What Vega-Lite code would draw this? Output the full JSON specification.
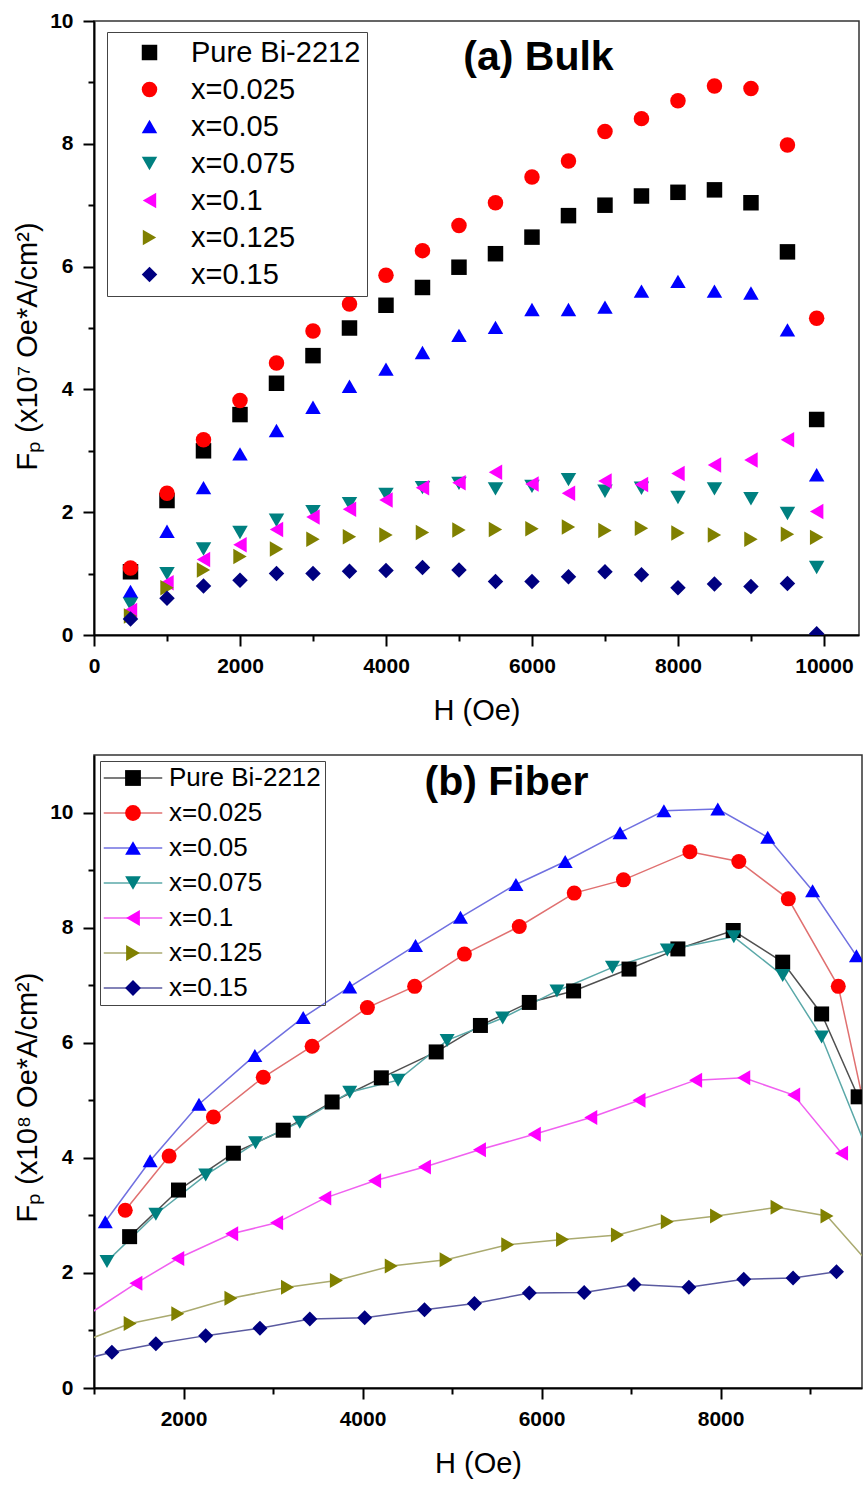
{
  "$schema": "https://vega.github.io/schema/vega-lite/v6.json",
  "padding": {"left": 12, "top": 9, "right": 0, "bottom": 0},
  "background": "white",
  "config": {
    "font": "Liberation Sans",
    "view": {"stroke": "#333333", "strokeWidth": 1.5},
    "axis": {
      "grid": false,
      "domainColor": "black",
      "domainWidth": 2,
      "tickColor": "black",
      "tickWidth": 2,
      "labelFont": "Liberation Sans",
      "labelFontWeight": "bold",
      "labelFontSize": 21,
      "labelColor": "black",
      "labelFlush": false,
      "labelOverlap": false,
      "titleFont": "Liberation Sans",
      "titleFontWeight": "normal",
      "titleFontSize": 29,
      "titleColor": "black"
    },
    "legend": {
      "labelFont": "Liberation Sans",
      "labelColor": "black",
      "labelLimit": 500
    }
  },
  "spacing": 28,
  "resolve": {
    "scale": {"color": "independent", "shape": "independent", "fill": "independent", "stroke": "independent"},
    "legend": {"color": "independent", "shape": "independent", "fill": "independent", "stroke": "independent"}
  },
  "datasets": {
    "bulk": [
      {"s": "Pure Bi-2212", "H": 500, "F": 1.03}, {"s": "Pure Bi-2212", "H": 1000, "F": 2.19}, {"s": "Pure Bi-2212", "H": 1500, "F": 3.0}, {"s": "Pure Bi-2212", "H": 2000, "F": 3.59}, {"s": "Pure Bi-2212", "H": 2500, "F": 4.1}, {"s": "Pure Bi-2212", "H": 3000, "F": 4.55}, {"s": "Pure Bi-2212", "H": 3500, "F": 5.0}, {"s": "Pure Bi-2212", "H": 4000, "F": 5.37}, {"s": "Pure Bi-2212", "H": 4500, "F": 5.66}, {"s": "Pure Bi-2212", "H": 5000, "F": 5.99}, {"s": "Pure Bi-2212", "H": 5500, "F": 6.21}, {"s": "Pure Bi-2212", "H": 6000, "F": 6.48}, {"s": "Pure Bi-2212", "H": 6500, "F": 6.83}, {"s": "Pure Bi-2212", "H": 7000, "F": 7.0}, {"s": "Pure Bi-2212", "H": 7500, "F": 7.15}, {"s": "Pure Bi-2212", "H": 8000, "F": 7.21}, {"s": "Pure Bi-2212", "H": 8500, "F": 7.25}, {"s": "Pure Bi-2212", "H": 9000, "F": 7.04}, {"s": "Pure Bi-2212", "H": 9500, "F": 6.24}, {"s": "Pure Bi-2212", "H": 9900, "F": 3.51},
      {"s": "x=0.025", "H": 500, "F": 1.09}, {"s": "x=0.025", "H": 1000, "F": 2.31}, {"s": "x=0.025", "H": 1500, "F": 3.18}, {"s": "x=0.025", "H": 2000, "F": 3.82}, {"s": "x=0.025", "H": 2500, "F": 4.43}, {"s": "x=0.025", "H": 3000, "F": 4.95}, {"s": "x=0.025", "H": 3500, "F": 5.39}, {"s": "x=0.025", "H": 4000, "F": 5.86}, {"s": "x=0.025", "H": 4500, "F": 6.26}, {"s": "x=0.025", "H": 5000, "F": 6.67}, {"s": "x=0.025", "H": 5500, "F": 7.04}, {"s": "x=0.025", "H": 6000, "F": 7.46}, {"s": "x=0.025", "H": 6500, "F": 7.72}, {"s": "x=0.025", "H": 7000, "F": 8.2}, {"s": "x=0.025", "H": 7500, "F": 8.41}, {"s": "x=0.025", "H": 8000, "F": 8.7}, {"s": "x=0.025", "H": 8500, "F": 8.94}, {"s": "x=0.025", "H": 9000, "F": 8.9}, {"s": "x=0.025", "H": 9500, "F": 7.98}, {"s": "x=0.025", "H": 9900, "F": 5.16},
      {"s": "x=0.05", "H": 500, "F": 0.71}, {"s": "x=0.05", "H": 1000, "F": 1.69}, {"s": "x=0.05", "H": 1500, "F": 2.4}, {"s": "x=0.05", "H": 2000, "F": 2.95}, {"s": "x=0.05", "H": 2500, "F": 3.33}, {"s": "x=0.05", "H": 3000, "F": 3.71}, {"s": "x=0.05", "H": 3500, "F": 4.05}, {"s": "x=0.05", "H": 4000, "F": 4.33}, {"s": "x=0.05", "H": 4500, "F": 4.6}, {"s": "x=0.05", "H": 5000, "F": 4.88}, {"s": "x=0.05", "H": 5500, "F": 5.01}, {"s": "x=0.05", "H": 6000, "F": 5.3}, {"s": "x=0.05", "H": 6500, "F": 5.3}, {"s": "x=0.05", "H": 7000, "F": 5.34}, {"s": "x=0.05", "H": 7500, "F": 5.6}, {"s": "x=0.05", "H": 8000, "F": 5.76}, {"s": "x=0.05", "H": 8500, "F": 5.6}, {"s": "x=0.05", "H": 9000, "F": 5.57}, {"s": "x=0.05", "H": 9500, "F": 4.97}, {"s": "x=0.05", "H": 9900, "F": 2.61},
      {"s": "x=0.075", "H": 500, "F": 0.5}, {"s": "x=0.075", "H": 1000, "F": 1.0}, {"s": "x=0.075", "H": 1500, "F": 1.4}, {"s": "x=0.075", "H": 2000, "F": 1.67}, {"s": "x=0.075", "H": 2500, "F": 1.87}, {"s": "x=0.075", "H": 3000, "F": 2.01}, {"s": "x=0.075", "H": 3500, "F": 2.14}, {"s": "x=0.075", "H": 4000, "F": 2.29}, {"s": "x=0.075", "H": 4500, "F": 2.4}, {"s": "x=0.075", "H": 5000, "F": 2.47}, {"s": "x=0.075", "H": 5500, "F": 2.38}, {"s": "x=0.075", "H": 6000, "F": 2.42}, {"s": "x=0.075", "H": 6500, "F": 2.53}, {"s": "x=0.075", "H": 7000, "F": 2.34}, {"s": "x=0.075", "H": 7500, "F": 2.39}, {"s": "x=0.075", "H": 8000, "F": 2.24}, {"s": "x=0.075", "H": 8500, "F": 2.38}, {"s": "x=0.075", "H": 9000, "F": 2.22}, {"s": "x=0.075", "H": 9500, "F": 1.98}, {"s": "x=0.075", "H": 9900, "F": 1.1},
      {"s": "x=0.1", "H": 500, "F": 0.4}, {"s": "x=0.1", "H": 1000, "F": 0.85}, {"s": "x=0.1", "H": 1500, "F": 1.23}, {"s": "x=0.1", "H": 2000, "F": 1.47}, {"s": "x=0.1", "H": 2500, "F": 1.72}, {"s": "x=0.1", "H": 3000, "F": 1.92}, {"s": "x=0.1", "H": 3500, "F": 2.05}, {"s": "x=0.1", "H": 4000, "F": 2.2}, {"s": "x=0.1", "H": 4500, "F": 2.4}, {"s": "x=0.1", "H": 5000, "F": 2.48}, {"s": "x=0.1", "H": 5500, "F": 2.65}, {"s": "x=0.1", "H": 6000, "F": 2.46}, {"s": "x=0.1", "H": 6500, "F": 2.31}, {"s": "x=0.1", "H": 7000, "F": 2.51}, {"s": "x=0.1", "H": 7500, "F": 2.45}, {"s": "x=0.1", "H": 8000, "F": 2.63}, {"s": "x=0.1", "H": 8500, "F": 2.77}, {"s": "x=0.1", "H": 9000, "F": 2.85}, {"s": "x=0.1", "H": 9500, "F": 3.18}, {"s": "x=0.1", "H": 9900, "F": 2.01},
      {"s": "x=0.125", "H": 500, "F": 0.31}, {"s": "x=0.125", "H": 1000, "F": 0.77}, {"s": "x=0.125", "H": 1500, "F": 1.06}, {"s": "x=0.125", "H": 2000, "F": 1.28}, {"s": "x=0.125", "H": 2500, "F": 1.4}, {"s": "x=0.125", "H": 3000, "F": 1.56}, {"s": "x=0.125", "H": 3500, "F": 1.6}, {"s": "x=0.125", "H": 4000, "F": 1.63}, {"s": "x=0.125", "H": 4500, "F": 1.67}, {"s": "x=0.125", "H": 5000, "F": 1.71}, {"s": "x=0.125", "H": 5500, "F": 1.72}, {"s": "x=0.125", "H": 6000, "F": 1.73}, {"s": "x=0.125", "H": 6500, "F": 1.76}, {"s": "x=0.125", "H": 7000, "F": 1.7}, {"s": "x=0.125", "H": 7500, "F": 1.74}, {"s": "x=0.125", "H": 8000, "F": 1.66}, {"s": "x=0.125", "H": 8500, "F": 1.63}, {"s": "x=0.125", "H": 9000, "F": 1.56}, {"s": "x=0.125", "H": 9500, "F": 1.64}, {"s": "x=0.125", "H": 9900, "F": 1.59},
      {"s": "x=0.15", "H": 500, "F": 0.26}, {"s": "x=0.15", "H": 1000, "F": 0.6}, {"s": "x=0.15", "H": 1500, "F": 0.8}, {"s": "x=0.15", "H": 2000, "F": 0.89}, {"s": "x=0.15", "H": 2500, "F": 1.0}, {"s": "x=0.15", "H": 3000, "F": 1.0}, {"s": "x=0.15", "H": 3500, "F": 1.04}, {"s": "x=0.15", "H": 4000, "F": 1.05}, {"s": "x=0.15", "H": 4500, "F": 1.1}, {"s": "x=0.15", "H": 5000, "F": 1.06}, {"s": "x=0.15", "H": 5500, "F": 0.87}, {"s": "x=0.15", "H": 6000, "F": 0.87}, {"s": "x=0.15", "H": 6500, "F": 0.95}, {"s": "x=0.15", "H": 7000, "F": 1.03}, {"s": "x=0.15", "H": 7500, "F": 0.98}, {"s": "x=0.15", "H": 8000, "F": 0.77}, {"s": "x=0.15", "H": 8500, "F": 0.83}, {"s": "x=0.15", "H": 9000, "F": 0.79}, {"s": "x=0.15", "H": 9500, "F": 0.84}, {"s": "x=0.15", "H": 9900, "F": 0.02}
    ],
    "fiber": [
      {"s": "Pure Bi-2212", "H": 1398, "F": 2.63}, {"s": "Pure Bi-2212", "H": 1944, "F": 3.44}, {"s": "Pure Bi-2212", "H": 2557, "F": 4.08}, {"s": "Pure Bi-2212", "H": 3114, "F": 4.48}, {"s": "Pure Bi-2212", "H": 3660, "F": 4.97}, {"s": "Pure Bi-2212", "H": 4210, "F": 5.39}, {"s": "Pure Bi-2212", "H": 4823, "F": 5.84}, {"s": "Pure Bi-2212", "H": 5317, "F": 6.3}, {"s": "Pure Bi-2212", "H": 5863, "F": 6.7}, {"s": "Pure Bi-2212", "H": 6358, "F": 6.9}, {"s": "Pure Bi-2212", "H": 6977, "F": 7.28}, {"s": "Pure Bi-2212", "H": 7523, "F": 7.63}, {"s": "Pure Bi-2212", "H": 8141, "F": 7.95}, {"s": "Pure Bi-2212", "H": 8694, "F": 7.4}, {"s": "Pure Bi-2212", "H": 9129, "F": 6.5}, {"s": "Pure Bi-2212", "H": 9537, "F": 5.06},
      {"s": "x=0.025", "H": 1349, "F": 3.09}, {"s": "x=0.025", "H": 1839, "F": 4.03}, {"s": "x=0.025", "H": 2334, "F": 4.71}, {"s": "x=0.025", "H": 2891, "F": 5.4}, {"s": "x=0.025", "H": 3437, "F": 5.94}, {"s": "x=0.025", "H": 4054, "F": 6.61}, {"s": "x=0.025", "H": 4582, "F": 6.98}, {"s": "x=0.025", "H": 5138, "F": 7.54}, {"s": "x=0.025", "H": 5751, "F": 8.02}, {"s": "x=0.025", "H": 6365, "F": 8.6}, {"s": "x=0.025", "H": 6915, "F": 8.83}, {"s": "x=0.025", "H": 7657, "F": 9.32}, {"s": "x=0.025", "H": 8204, "F": 9.15}, {"s": "x=0.025", "H": 8757, "F": 8.5}, {"s": "x=0.025", "H": 9315, "F": 6.98}, {"s": "x=0.025", "H": 9800, "F": 3.5},
      {"s": "x=0.05", "H": 1126, "F": 2.89}, {"s": "x=0.05", "H": 1627, "F": 3.95}, {"s": "x=0.05", "H": 2173, "F": 4.93}, {"s": "x=0.05", "H": 2797, "F": 5.78}, {"s": "x=0.05", "H": 3337, "F": 6.44}, {"s": "x=0.05", "H": 3857, "F": 6.97}, {"s": "x=0.05", "H": 4592, "F": 7.69}, {"s": "x=0.05", "H": 5094, "F": 8.18}, {"s": "x=0.05", "H": 5714, "F": 8.75}, {"s": "x=0.05", "H": 6264, "F": 9.15}, {"s": "x=0.05", "H": 6877, "F": 9.65}, {"s": "x=0.05", "H": 7367, "F": 10.03}, {"s": "x=0.05", "H": 7969, "F": 10.06}, {"s": "x=0.05", "H": 8527, "F": 9.57}, {"s": "x=0.05", "H": 9028, "F": 8.64}, {"s": "x=0.05", "H": 9518, "F": 7.51},
      {"s": "x=0.075", "H": 1145, "F": 2.2}, {"s": "x=0.075", "H": 1691, "F": 3.02}, {"s": "x=0.075", "H": 2248, "F": 3.7}, {"s": "x=0.075", "H": 2805, "F": 4.26}, {"s": "x=0.075", "H": 3299, "F": 4.62}, {"s": "x=0.075", "H": 3857, "F": 5.14}, {"s": "x=0.075", "H": 4397, "F": 5.35}, {"s": "x=0.075", "H": 4945, "F": 6.04}, {"s": "x=0.075", "H": 5566, "F": 6.43}, {"s": "x=0.075", "H": 6172, "F": 6.9}, {"s": "x=0.075", "H": 6792, "F": 7.31}, {"s": "x=0.075", "H": 7405, "F": 7.61}, {"s": "x=0.075", "H": 8148, "F": 7.84}, {"s": "x=0.075", "H": 8694, "F": 7.17}, {"s": "x=0.075", "H": 9129, "F": 6.1}, {"s": "x=0.075", "H": 9700, "F": 3.9},
      {"s": "x=0.1", "H": 900, "F": 1.24}, {"s": "x=0.1", "H": 1468, "F": 1.82}, {"s": "x=0.1", "H": 1936, "F": 2.25}, {"s": "x=0.1", "H": 2538, "F": 2.68}, {"s": "x=0.1", "H": 3040, "F": 2.87}, {"s": "x=0.1", "H": 3578, "F": 3.3}, {"s": "x=0.1", "H": 4135, "F": 3.6}, {"s": "x=0.1", "H": 4692, "F": 3.84}, {"s": "x=0.1", "H": 5306, "F": 4.14}, {"s": "x=0.1", "H": 5919, "F": 4.41}, {"s": "x=0.1", "H": 6550, "F": 4.7}, {"s": "x=0.1", "H": 7089, "F": 5.0}, {"s": "x=0.1", "H": 7721, "F": 5.35}, {"s": "x=0.1", "H": 8259, "F": 5.39}, {"s": "x=0.1", "H": 8817, "F": 5.09}, {"s": "x=0.1", "H": 9352, "F": 4.08},
      {"s": "x=0.125", "H": 850, "F": 0.79}, {"s": "x=0.125", "H": 1404, "F": 1.12}, {"s": "x=0.125", "H": 1936, "F": 1.29}, {"s": "x=0.125", "H": 2530, "F": 1.56}, {"s": "x=0.125", "H": 3162, "F": 1.75}, {"s": "x=0.125", "H": 3708, "F": 1.87}, {"s": "x=0.125", "H": 4321, "F": 2.12}, {"s": "x=0.125", "H": 4934, "F": 2.23}, {"s": "x=0.125", "H": 5622, "F": 2.49}, {"s": "x=0.125", "H": 6235, "F": 2.58}, {"s": "x=0.125", "H": 6848, "F": 2.66}, {"s": "x=0.125", "H": 7405, "F": 2.89}, {"s": "x=0.125", "H": 7955, "F": 2.99}, {"s": "x=0.125", "H": 8631, "F": 3.14}, {"s": "x=0.125", "H": 9189, "F": 2.99}, {"s": "x=0.125", "H": 9800, "F": 1.91},
      {"s": "x=0.15", "H": 800, "F": 0.47}, {"s": "x=0.15", "H": 1200, "F": 0.62}, {"s": "x=0.15", "H": 1691, "F": 0.77}, {"s": "x=0.15", "H": 2248, "F": 0.91}, {"s": "x=0.15", "H": 2854, "F": 1.04}, {"s": "x=0.15", "H": 3411, "F": 1.2}, {"s": "x=0.15", "H": 4024, "F": 1.22}, {"s": "x=0.15", "H": 4692, "F": 1.36}, {"s": "x=0.15", "H": 5250, "F": 1.47}, {"s": "x=0.15", "H": 5863, "F": 1.65}, {"s": "x=0.15", "H": 6476, "F": 1.66}, {"s": "x=0.15", "H": 7033, "F": 1.8}, {"s": "x=0.15", "H": 7646, "F": 1.75}, {"s": "x=0.15", "H": 8259, "F": 1.89}, {"s": "x=0.15", "H": 8810, "F": 1.91}, {"s": "x=0.15", "H": 9295, "F": 2.02}
    ]
  },
  "vconcat": [
    {
      "width": 765,
      "height": 614,
      "layer": [
        {
          "data": {"name": "bulk"},
          "mark": {"type": "point", "filled": true, "size": 240, "opacity": 1, "strokeWidth": 0, "clip": true},
          "encoding": {
            "x": {
              "field": "H", "type": "quantitative",
              "scale": {"domain": [0, 10480], "nice": false, "zero": false},
              "axis": {
                "title": "H (Oe)",
                "values": [0, 1000, 2000, 3000, 4000, 5000, 6000, 7000, 8000, 9000, 10000],
                "format": "d",
                "labelExpr": "datum.value % 2000 === 0 ? datum.label : ''",
                "tickSize": {"condition": {"test": "datum.value % 2000 === 0", "value": 11}, "value": 6},
                "labelPadding": 9,
                "titlePadding": 20
              }
            },
            "y": {
              "field": "F", "type": "quantitative",
              "scale": {"domain": [0, 10], "nice": false},
              "axis": {
                "title": "Fₚ (x10⁷ Oe*A/cm²)",
                "values": [0, 1, 2, 3, 4, 5, 6, 7, 8, 9, 10],
                "format": "d",
                "labelExpr": "datum.value % 2 === 0 ? datum.label : ''",
                "tickSize": {"condition": {"test": "datum.value % 2 === 0", "value": 11}, "value": 6},
                "labelPadding": 10,
                "titlePadding": 7,
                "titleY": 325
              }
            },
            "color": {
              "field": "s", "type": "nominal",
              "scale": {"domain": ["Pure Bi-2212", "x=0.025", "x=0.05", "x=0.075", "x=0.1", "x=0.125", "x=0.15"], "range": ["#000000", "#ff0000", "#0000ff", "#008080", "#ff00ff", "#808000", "#000080"]},
              "legend": {"title": null, "orient": "none", "legendX": 13, "legendY": 11, "padding": 6, "strokeColor": "#444444", "fillColor": "white", "labelFontSize": 29, "symbolSize": 240, "symbolStrokeWidth": 0, "symbolOffset": 22, "labelOffset": 27, "rowPadding": 7}
            },
            "shape": {
              "field": "s", "type": "nominal",
              "scale": {"domain": ["Pure Bi-2212", "x=0.025", "x=0.05", "x=0.075", "x=0.1", "x=0.125", "x=0.15"], "range": ["square", "circle", "triangle-up", "triangle-down", "triangle-left", "triangle-right", "diamond"]},
              "legend": {"title": null, "orient": "none", "legendX": 13, "legendY": 11, "padding": 6, "strokeColor": "#444444", "fillColor": "white", "labelFontSize": 29, "symbolSize": 240, "symbolStrokeWidth": 0, "symbolOffset": 22, "labelOffset": 27, "rowPadding": 7}
            }
          }
        },
        {
          "data": {"values": [{}]},
          "mark": {"type": "text", "text": "(a) Bulk", "font": "Liberation Sans", "fontSize": 41, "fontWeight": "bold", "color": "black", "align": "center", "baseline": "middle"},
          "encoding": {"x": {"datum": 6089}, "y": {"datum": 9.4}}
        }
      ]
    },
    {
      "width": 768,
      "height": 633,
      "layer": [
        {
          "data": {"name": "fiber"},
          "mark": {"type": "line", "strokeWidth": 1.5, "clip": true},
          "encoding": {
            "x": {
              "field": "H", "type": "quantitative",
              "scale": {"domain": [1000, 9580], "nice": false, "zero": false},
              "axis": {
                "title": "H (Oe)",
                "values": [1000, 2000, 3000, 4000, 5000, 6000, 7000, 8000, 9000],
                "format": "d",
                "labelExpr": "datum.value % 2000 === 0 ? datum.label : ''",
                "tickSize": {"condition": {"test": "datum.value % 2000 === 0", "value": 11}, "value": 6},
                "labelPadding": 9,
                "titlePadding": 20
              }
            },
            "y": {
              "field": "F", "type": "quantitative",
              "scale": {"domain": [0, 11], "nice": false},
              "axis": {
                "title": "Fₚ (x10⁸ Oe*A/cm²)",
                "values": [0, 1, 2, 3, 4, 5, 6, 7, 8, 9, 10],
                "format": "d",
                "labelExpr": "datum.value % 2 === 0 ? datum.label : ''",
                "tickSize": {"condition": {"test": "datum.value % 2 === 0", "value": 11}, "value": 6},
                "labelPadding": 10,
                "titlePadding": 7,
                "titleY": 342
              }
            },
            "stroke": {
              "field": "s", "type": "nominal",
              "scale": {"range": ["#505050", "#e07070", "#7070e0", "#5aa8a8", "#f060f0", "#aaaa70", "#5a5aa0"]},
              "legend": {"title": null, "orient": "none", "legendX": 6, "legendY": 6, "padding": 4, "symbolType": "M-3.7,0H3.7", "symbolSize": 250, "symbolStrokeWidth": 1.5, "symbolOffset": 16, "labelFontSize": 26, "labelOffset": 23, "labelOpacity": 0, "rowPadding": 9}
            }
          }
        },
        {
          "data": {"name": "fiber"},
          "mark": {"type": "point", "filled": true, "size": 225, "opacity": 1, "strokeWidth": 0, "clip": true},
          "encoding": {
            "x": {"field": "H", "type": "quantitative"},
            "y": {"field": "F", "type": "quantitative"},
            "fill": {
              "field": "s", "type": "nominal",
              "scale": {"domain": ["Pure Bi-2212", "x=0.025", "x=0.05", "x=0.075", "x=0.1", "x=0.125", "x=0.15"], "range": ["#000000", "#ff0000", "#0000ff", "#008080", "#ff00ff", "#808000", "#000080"]},
              "legend": {"title": null, "orient": "none", "legendX": 6, "legendY": 6, "padding": 4, "strokeColor": "#444444", "labelFontSize": 26, "symbolSize": 250, "symbolStrokeWidth": 0, "symbolOffset": 16, "labelOffset": 23, "rowPadding": 9}
            },
            "shape": {
              "field": "s", "type": "nominal",
              "scale": {"domain": ["Pure Bi-2212", "x=0.025", "x=0.05", "x=0.075", "x=0.1", "x=0.125", "x=0.15"], "range": ["square", "circle", "triangle-up", "triangle-down", "triangle-left", "triangle-right", "diamond"]},
              "legend": {"title": null, "orient": "none", "legendX": 6, "legendY": 6, "padding": 4, "strokeColor": "#444444", "labelFontSize": 26, "symbolSize": 250, "symbolStrokeWidth": 0, "symbolOffset": 16, "labelOffset": 23, "rowPadding": 9}
            }
          }
        },
        {
          "data": {"values": [{}]},
          "mark": {"type": "text", "text": "(b) Fiber", "font": "Liberation Sans", "fontSize": 41, "fontWeight": "bold", "color": "black", "align": "center", "baseline": "middle"},
          "encoding": {"x": {"datum": 5608}, "y": {"datum": 10.51}}
        }
      ]
    }
  ]
}
